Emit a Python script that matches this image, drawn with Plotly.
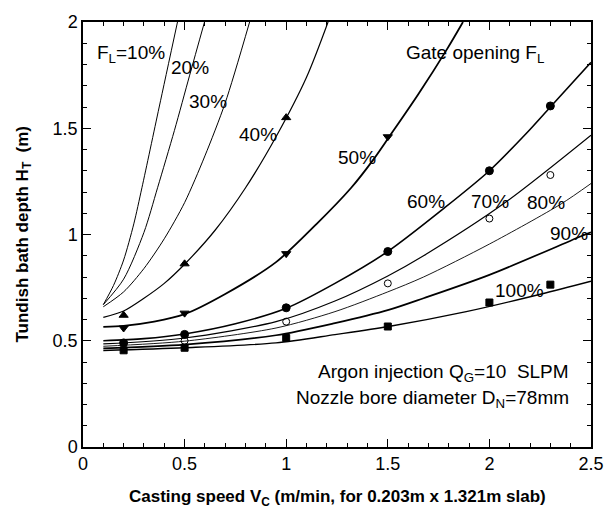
import plotly.graph_objects as go

# ---- fitted curves ----
c10_x = [0.1, 0.15, 0.2, 0.25, 0.29, 0.375, 0.465]
c10_y = [0.67, 0.76, 0.88, 1.05, 1.22, 1.60, 2.0]
c20_x = [0.1, 0.2, 0.3, 0.367, 0.45, 0.525, 0.598]
c20_y = [0.67, 0.79, 1.01, 1.22, 1.49, 1.75, 2.0]
c30_x = [0.1, 0.2, 0.3, 0.4, 0.5, 0.6, 0.7, 0.82]
c30_y = [0.66, 0.73, 0.84, 0.98, 1.15, 1.37, 1.62, 2.0]
c40_x = [0.1, 0.2, 0.3, 0.4, 0.5, 0.65, 0.8, 0.95, 1.1, 1.206]
c40_y = [0.61, 0.64, 0.70, 0.77, 0.86, 1.02, 1.22, 1.46, 1.74, 2.0]
c50_x = [0.1, 0.2, 0.35, 0.5, 0.7, 0.95, 1.15, 1.32, 1.427, 1.507, 1.65, 1.79, 1.87]
c50_y = [0.565, 0.57, 0.59, 0.625, 0.72, 0.87, 1.05, 1.22, 1.35, 1.46, 1.66, 1.87, 2.0]
c60_x = [0.1, 0.3, 0.5, 0.75, 1.0, 1.24, 1.5, 1.78, 2.0, 2.18, 2.3, 2.5]
c60_y = [0.50, 0.51, 0.532, 0.58, 0.653, 0.77, 0.92, 1.126, 1.30, 1.474, 1.60, 1.81]
c70_x = [0.1, 0.5, 0.95, 1.24, 1.5, 1.676, 2.076, 2.5]
c70_y = [0.485, 0.513, 0.59, 0.687, 0.805, 0.90, 1.149, 1.467]
c80_x = [0.1, 0.5, 0.95, 1.24, 1.5, 1.676, 2.0, 2.353, 2.5]
c80_y = [0.474, 0.498, 0.56, 0.637, 0.73, 0.80, 0.955, 1.144, 1.24]
c90_x = [0.1, 0.5, 0.95, 1.24, 1.504, 1.676, 2.0, 2.457, 2.5]
c90_y = [0.464, 0.482, 0.526, 0.583, 0.645, 0.70, 0.81, 0.994, 1.01]
c100_x = [0.1, 0.5, 0.95, 1.24, 1.504, 1.886, 2.256, 2.5]
c100_y = [0.454, 0.467, 0.49, 0.529, 0.567, 0.637, 0.72, 0.78]

# ---- measured points ----
m40_x = [0.2, 0.5, 1.0]
m40_y = [0.62, 0.862, 1.55]
m50_x = [0.2, 0.5, 1.0, 1.5]
m50_y = [0.56, 0.63, 0.91, 1.46]
m60_x = [0.2, 0.5, 1.0, 1.5, 2.0, 2.3]
m60_y = [0.49, 0.53, 0.655, 0.92, 1.30, 1.605]
m70_x = [0.5, 1.0, 1.5, 2.0, 2.3]
m70_y = [0.50, 0.59, 0.77, 1.075, 1.28]
m100_x = [0.2, 0.5, 1.0, 1.5, 2.0, 2.3]
m100_y = [0.455, 0.467, 0.513, 0.567, 0.68, 0.764]

# ---- curve labels ----
lab_text = ["F<sub>L</sub>=10%", "20%", "30%", "40%", "50%", "60%", "70%", "80%", "90%", "100%"]
lab_x = [0.237, 0.527, 0.614, 0.86, 1.348, 1.69, 2.005, 2.28, 2.39, 2.15]
lab_y = [1.85, 1.786, 1.628, 1.47, 1.363, 1.153, 1.153, 1.149, 1.005, 0.735]

x_ticks = [0, 0.5, 1, 1.5, 2, 2.5]
x_ticklabels = ["0", "0.5", "1", "1.5", "2", "2.5"]
y_ticks = [0, 0.5, 1, 1.5, 2]
y_ticklabels = ["0", "0.5", "1", "1.5", "2"]

FONT = "Liberation Sans, Arial, Helvetica, sans-serif"

fig = go.Figure()
curves = [
    (c10_x, c10_y, 1.0), (c20_x, c20_y, 1.0), (c30_x, c30_y, 1.0),
    (c40_x, c40_y, 1.2), (c50_x, c50_y, 1.8), (c60_x, c60_y, 1.6),
    (c70_x, c70_y, 1.2), (c80_x, c80_y, 0.9), (c90_x, c90_y, 1.7),
    (c100_x, c100_y, 1.4),
]
for cx, cy, w in curves:
    fig.add_trace(go.Scatter(x=cx, y=cy, mode="lines",
                             line=dict(color="black", width=w, shape="spline", smoothing=0.8),
                             showlegend=False, hoverinfo="skip"))

markers = [
    (m40_x, m40_y, "triangle-up", 8),
    (m50_x, m50_y, "triangle-down", 8),
    (m60_x, m60_y, "circle", 8),
    (m70_x, m70_y, "circle-open", 7),
    (m100_x, m100_y, "square", 7),
]
for mx, my, sym, sz in markers:
    fig.add_trace(go.Scatter(x=mx, y=my, mode="markers",
                             marker=dict(symbol=sym, color="black", size=sz,
                                         line=dict(color="black", width=1)),
                             showlegend=False, cliponaxis=False))

ANN = dict(family=FONT, size=19, color="black")
for t, lx, ly in zip(lab_text, lab_x, lab_y):
    fig.add_annotation(x=lx, y=ly, text=t, showarrow=False, font=ANN,
                       xanchor="center", yanchor="middle")

fig.add_annotation(x=1.58, y=1.85, text="Gate opening F<sub>L</sub>", showarrow=False,
                   font=ANN, xanchor="left", yanchor="middle")
fig.add_annotation(x=2.4, y=0.349, text="Argon injection Q<sub>G</sub>=10  SLPM", showarrow=False,
                   font=ANN, xanchor="right", yanchor="middle")
fig.add_annotation(x=2.4, y=0.228, text="Nozzle bore diameter D<sub>N</sub>=78mm", showarrow=False,
                   font=ANN, xanchor="right", yanchor="middle")

# axis titles
fig.add_annotation(xref="paper", yref="paper", x=0.5, y=-0.121,
                   text="<b>Casting speed V<sub>C</sub> (m/min, for 0.203m x 1.321m slab)</b>",
                   showarrow=False, font=dict(family=FONT, size=17, color="black"),
                   xanchor="center", yanchor="middle")
fig.add_annotation(xref="paper", yref="paper", x=-0.118, y=0.5,
                   text="<b>Tundish bath depth H<sub>T</sub>  (m)</b>", textangle=-90,
                   showarrow=False, font=dict(family=FONT, size=17, color="black"),
                   xanchor="center", yanchor="middle")

axis_common = dict(showgrid=False, zeroline=False, showline=True, linecolor="black", linewidth=1.5,
                   mirror="allticks", ticks="inside", ticklen=8, tickwidth=1.3, tickcolor="black",
                   tickfont=dict(family=FONT, size=18, color="black"))
fig.update_xaxes(range=[0, 2.5], tickvals=x_ticks, ticktext=x_ticklabels,
                 minor=dict(dtick=0.1, ticks="inside", ticklen=4, tickwidth=1, tickcolor="black"),
                 **axis_common)
fig.update_yaxes(range=[0, 2], tickvals=y_ticks, ticktext=y_ticklabels,
                 minor=dict(dtick=0.1, ticks="inside", ticklen=4, tickwidth=1, tickcolor="black"),
                 **axis_common)

fig.update_layout(width=616, height=523, margin=dict(l=83, r=15, t=17, b=76),
                  paper_bgcolor="white", plot_bgcolor="white", showlegend=False)

fig.write_html("out.html")
